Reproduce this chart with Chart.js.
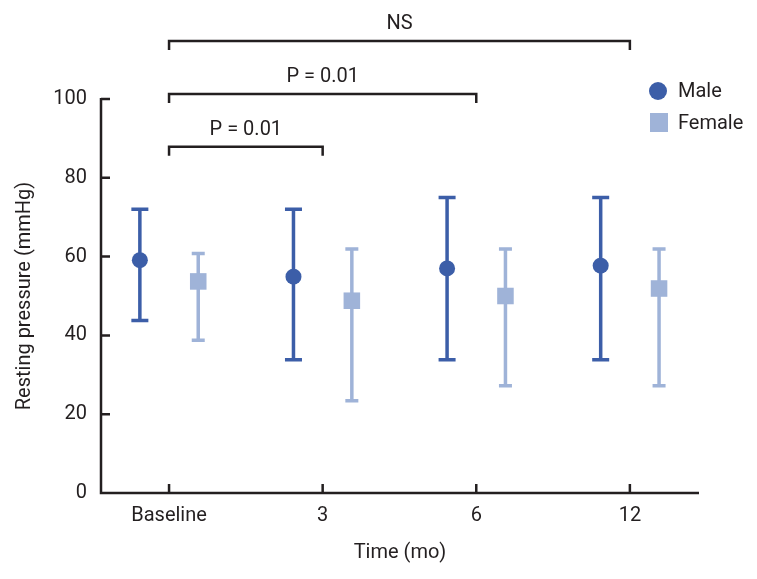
<!DOCTYPE html>
<html lang="en">
<head>
<meta charset="UTF-8">
<title>Resting pressure by time</title>
<script src="https://cdn.jsdelivr.net/npm/chart.js"></script>
<style>
  body { margin: 0; background: #fff; }
</style>
</head>
<body>
<canvas id="chart" width="757" height="579"></canvas>
<script>
// values (mmHg)
const timeLabels = ['Baseline', '3', '6', '12'];
const maleMean = [59.1, 54.9, 57.0, 57.7];
const maleLow = [43.8, 33.8, 33.8, 33.8];
const maleHigh = [72.0, 72.0, 75.0, 75.0];
const femaleMean = [53.7, 48.8, 50.0, 51.9];
const femaleLow = [38.8, 23.4, 27.2, 27.2];
const femaleHigh = [60.8, 61.9, 61.9, 61.9];
const yTicks = [0, 20, 40, 60, 80, 100];

// significance brackets (category index from/to, level in mmHg)
const bracketFrom = [0, 0, 0];
const bracketTo = [3, 2, 1];
const bracketLevel = [114.7, 101.3, 87.9];
const bracketText = ['NS', 'P = 0.01', 'P = 0.01'];

const FONT = 'Roboto, "Liberation Sans", sans-serif';
const INK = '#231f20';
const MALE = '#3c5ea8';
const FEMALE = '#9fb3d8';
const shift = 0.19;

const decor = {
    id: 'decor',
    beforeDatasetsDraw(chart) {
        const { ctx, scales: { x, y } } = chart;
        ctx.save();
        chart.data.datasets.forEach(ds => {
            ctx.strokeStyle = ds.borderColor;
            ctx.lineWidth = 3.5;
            ds.data.forEach((p, i) => {
                const px = x.getPixelForValue(p.x);
                const top = y.getPixelForValue(ds.high[i]);
                const bot = y.getPixelForValue(ds.low[i]);
                ctx.beginPath();
                ctx.moveTo(px, top); ctx.lineTo(px, bot);
                ctx.moveTo(px - ds.cap, top); ctx.lineTo(px + ds.cap, top);
                ctx.moveTo(px - ds.cap, bot); ctx.lineTo(px + ds.cap, bot);
                ctx.stroke();
            });
        });
        ctx.restore();
    },
    afterDraw(chart) {
        const { ctx, chartArea: a, scales: { x, y } } = chart;
        ctx.save();
        ctx.strokeStyle = INK;
        ctx.lineWidth = 2.5;
        ctx.lineCap = 'butt';

        // axes with inward ticks
        ctx.beginPath();
        ctx.moveTo(a.left, a.top - 1); ctx.lineTo(a.left, a.bottom);
        ctx.lineTo(a.right, a.bottom);
        yTicks.forEach(v => {
            const py = y.getPixelForValue(v);
            ctx.moveTo(a.left, py); ctx.lineTo(a.left + 9, py);
        });
        timeLabels.forEach((_, i) => {
            const px = x.getPixelForValue(i);
            ctx.moveTo(px, a.bottom); ctx.lineTo(px, a.bottom - 9);
        });
        ctx.stroke();

        // brackets
        ctx.fillStyle = INK;
        ctx.font = '20px ' + FONT;
        ctx.textAlign = 'center';
        ctx.textBaseline = 'middle';
        bracketText.forEach((t, i) => {
            const x1 = x.getPixelForValue(bracketFrom[i]);
            const x2 = x.getPixelForValue(bracketTo[i]);
            const py = y.getPixelForValue(bracketLevel[i]);
            ctx.beginPath();
            ctx.moveTo(x1, py + 9); ctx.lineTo(x1, py);
            ctx.lineTo(x2, py); ctx.lineTo(x2, py + 9);
            ctx.stroke();
            ctx.fillText(t, (x1 + x2) / 2, py - 17);
        });

        // legend
        ctx.textAlign = 'left';
        ctx.fillStyle = MALE;
        ctx.beginPath();
        ctx.arc(658, 91, 9, 0, Math.PI * 2);
        ctx.fill();
        ctx.fillStyle = FEMALE;
        ctx.fillRect(650, 113, 18, 19);
        ctx.fillStyle = INK;
        ctx.fillText('Male', 678, 92);
        ctx.fillText('Female', 678, 124);
        ctx.restore();
    }
};

const font = { family: FONT, size: 20 };

new Chart(document.getElementById('chart'), {
    type: 'scatter',
    data: {
        datasets: [
            {
                label: 'Male',
                data: maleMean.map((v, i) => ({ x: i - shift, y: v })),
                low: maleLow,
                high: maleHigh,
                cap: 8.5,
                pointStyle: 'circle',
                pointRadius: 8,
                backgroundColor: MALE,
                borderColor: MALE,
                borderWidth: 0
            },
            {
                label: 'Female',
                data: femaleMean.map((v, i) => ({ x: i + shift, y: v })),
                low: femaleLow,
                high: femaleHigh,
                cap: 6.5,
                pointStyle: 'rect',
                pointRadius: 11.7,
                backgroundColor: FEMALE,
                borderColor: FEMALE,
                borderWidth: 0
            }
        ]
    },
    options: {
        responsive: false,
        animation: false,
        events: [],
        layout: { padding: { top: 99, right: 58, left: 0, bottom: 0 } },
        plugins: {
            legend: { display: false },
            tooltip: { enabled: false }
        },
        scales: {
            x: {
                type: 'linear',
                min: -0.443,
                max: 3.45,
                border: { display: false },
                grid: { display: false, drawTicks: false },
                afterBuildTicks: s => { s.ticks = timeLabels.map((_, i) => ({ value: i })); },
                afterFit: s => { s.height = 86; },
                ticks: {
                    callback: v => timeLabels[v],
                    padding: 11,
                    maxRotation: 0,
                    autoSkip: false,
                    font: font,
                    color: INK
                },
                title: {
                    display: true,
                    text: 'Time (mo)',
                    font: font,
                    color: INK,
                    padding: { top: 0, bottom: 14 }
                }
            },
            y: {
                min: 0,
                max: 100,
                border: { display: false },
                grid: { display: false, drawTicks: false },
                afterBuildTicks: s => { s.ticks = yTicks.map(v => ({ value: v })); },
                afterFit: s => { s.width = 101; },
                ticks: {
                    padding: 14,
                    font: font,
                    color: INK
                },
                title: {
                    display: true,
                    text: 'Resting pressure (mmHg)',
                    font: font,
                    color: INK,
                    padding: { top: 13, bottom: 0 }
                }
            }
        }
    },
    plugins: [decor]
});
</script>
</body>
</html>
